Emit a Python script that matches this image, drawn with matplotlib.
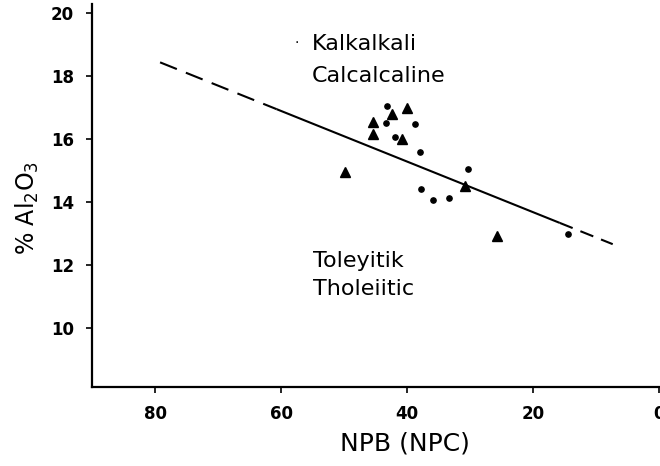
import matplotlib
matplotlib.use("Agg")
import matplotlib.pyplot as plt

plt.rcParams['font.family'] = ['DejaVu Sans']
plt.rcParams['lines.scale_dashes'] = False

# Data
tri_x = [40.1, 42.4, 45.4, 45.4, 40.8, 49.9, 30.9, 25.7]
tri_y = [17.0, 16.8, 16.55, 16.15, 16.0, 14.95, 14.5, 12.92]
dot_x = [43.2, 43.4, 38.7, 41.9, 38.0, 30.3, 37.8, 35.9, 33.3, 14.5]
dot_y = [17.05, 16.52, 16.49, 16.07, 15.6, 15.04, 14.41, 14.08, 14.14, 13.0]

# Boundary line: solid part and dashed extensions
solid_x = [60.7, 15.8]
dash_left_x = [79.2, 60.7]
dash_right_x = [15.8, 7.4]
line_slope = 0.0804
line_x0, line_y0 = 15.8, 13.34

def line_y(xs):
    return [line_y0 + line_slope * (x - line_x0) for x in xs]

x_ticks = [80, 60, 40, 20, 0]
y_ticks = [10, 12, 14, 16, 18, 20]

fig = plt.figure(figsize=(6.6, 4.66), dpi=100)
ax = fig.add_axes([92 / 660, 79 / 466, 568 / 660, 383 / 466])

ax.plot(solid_x, line_y(solid_x), color='black', lw=1.5, solid_capstyle='butt')
ax.plot(dash_left_x, line_y(dash_left_x), color='black', lw=1.5, dashes=(13, 7))
ax.plot(dash_right_x, line_y(dash_right_x), color='black', lw=1.5, dashes=(10, 6))

ax.plot(tri_x, tri_y, linestyle='none', marker='^', ms=7.5, color='black')
ax.plot(dot_x, dot_y, linestyle='none', marker='o', ms=3.8, color='black')

ax.text(55.2, 18.83, 'Kalkalkali', fontsize=16, ha='left', va='baseline')
ax.text(55.2, 17.82, 'Calcalcaline', fontsize=16, ha='left', va='baseline')
ax.text(57.6, 19.05, '·', fontsize=10, ha='center', va='center')
ax.text(55.0, 11.95, 'Toleyitik', fontsize=16, ha='left', va='baseline')
ax.text(55.0, 11.05, 'Tholeiitic', fontsize=16, ha='left', va='baseline')

ax.set_xlim(90, -0.1)
ax.set_ylim(8.13, 20.29)
ax.set_xticks(x_ticks)
ax.set_xticklabels([str(v) for v in x_ticks])
ax.set_yticks(y_ticks)
ax.set_yticklabels([str(v) for v in y_ticks])

for s in ['top', 'right']:
    ax.spines[s].set_visible(False)
for s in ['left', 'bottom']:
    ax.spines[s].set_linewidth(1.6)

ax.tick_params(axis='both', direction='out', length=4, width=1.2, labelsize=12, pad=9)
for lab in ax.get_xticklabels() + ax.get_yticklabels():
    lab.set_fontweight('bold')

ax.set_xlabel('NPB (NPC)', fontsize=18)
ax.set_ylabel(r'% Al$_2$O$_3$', fontsize=17)
ax.xaxis.set_label_coords((405 - 92) / 568, -(432 - 387) / 383)
ax.yaxis.set_label_coords(-(92 - 41) / 568, (387 - 208) / 383)

fig.savefig('out.png', dpi=100)
